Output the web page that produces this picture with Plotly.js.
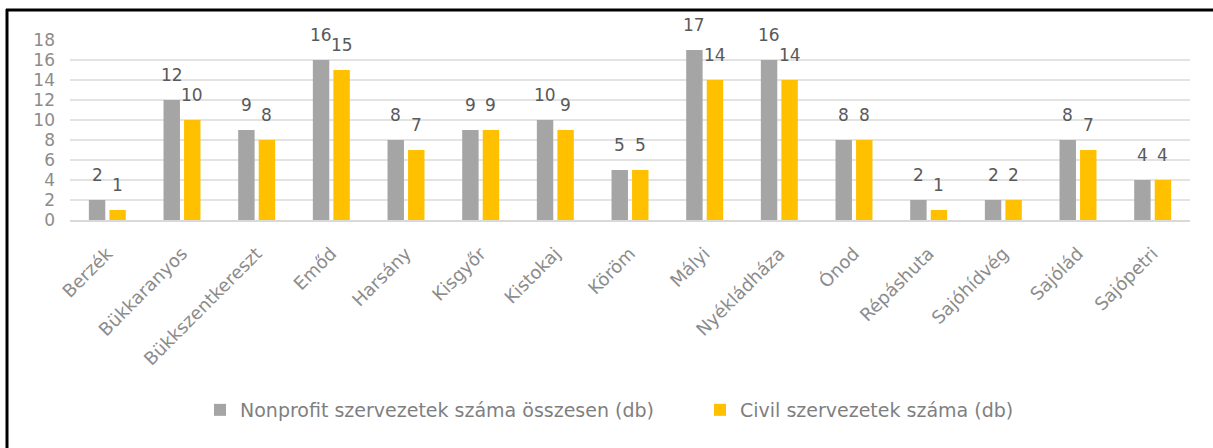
<!DOCTYPE html>
<html>
<head>
<meta charset="utf-8">
<script src="https://cdn.plot.ly/plotly-3.0.1.min.js"></script>
<style>
html,body{margin:0;padding:0;background:#fff;}
#chart{width:1213px;height:448px;}
</style>
</head>
<body>
<div id="chart"></div>
<script>
const categories = ["Berzék","Bükkaranyos","Bükkszentkereszt","Emőd","Harsány","Kisgyőr","Kistokaj","Köröm","Mályi","Nyékládháza","Ónod","Répáshuta","Sajóhídvég","Sajólád","Sajópetri"];
const nonprofitTotal = [2,12,9,16,8,9,10,5,17,16,8,2,2,8,4];
const civil = [1,10,8,15,7,9,9,5,14,14,8,1,2,7,4];
const seriesNames = ["Nonprofit szervezetek száma összesen (db)","Civil szervezetek száma (db)"];
const yTicks = [0,2,4,6,8,10,12,14,16,18];

const W = 1213, H = 448, L = 70, R = 23, T = 40, B = 228;
const plotW = W - L - R, plotH = H - T - B;
const px = x => (x - L) / plotW;
const py = y => (H - B - y) / plotH;

const FONT = 'DejaVu Sans, Verdana, sans-serif';
const BARGAP = 0.45, GROUPGAP = 0.2;
const slot = (1 - BARGAP) / 2;

const common = {type: 'bar', x: categories, hoverinfo: 'none', cliponaxis: false};
const data = [
  Object.assign({}, common, {name: seriesNames[0], y: nonprofitTotal, marker: {color: '#A5A5A5'}, legend: 'legend'}),
  Object.assign({}, common, {name: seriesNames[1], y: civil, marker: {color: '#FFC000'}, legend: 'legend2'})
];

const annotations = [];
[nonprofitTotal, civil].forEach((vals, s) => {
  const off = (s === 0 ? -1 : 1) * slot / 2;
  vals.forEach((v, i) => {
    annotations.push({
      x: i + off, y: v, xref: 'x', yref: 'y', text: String(v), showarrow: false,
      yanchor: 'bottom', xanchor: 'center', yshift: 13,
      font: {family: FONT, size: 17, color: '#595959'}
    });
  });
});

const legendBase = {
  orientation: 'h', xanchor: 'left', y: py(410), yanchor: 'middle',
  font: {family: FONT, size: 19, color: '#7f7f7f'}, bgcolor: 'rgba(0,0,0,0)'
};

const layout = {
  width: W, height: H,
  margin: {l: L, r: R, t: T, b: B},
  paper_bgcolor: '#fff', plot_bgcolor: '#fff',
  barmode: 'group', bargap: BARGAP, bargroupgap: GROUPGAP,
  font: {family: FONT, color: '#7f7f7f'},
  xaxis: {
    type: 'category', tickangle: -45, showgrid: false, zeroline: false,
    showline: true, linecolor: '#d9d9d9', linewidth: 2, ticks: '',
    tickfont: {family: FONT, size: 18, color: '#8c8c8c'}, automargin: false,
    ticklabelstandoff: 14
  },
  yaxis: {
    range: [0, 18], tickvals: yTicks, ticktext: yTicks.map(String),
    showgrid: true, gridcolor: '#e3e3e3', gridwidth: 2, zeroline: false,
    showline: false, ticks: '', tickfont: {family: FONT, size: 17, color: '#8c8c8c'}, automargin: false,
    ticklabelstandoff: 14
  },
  showlegend: true,
  legend: Object.assign({}, legendBase, {x: px(200)}),
  legend2: Object.assign({}, legendBase, {x: px(700)}),
  annotations: annotations,
  shapes: [
    {type: 'line', xref: 'paper', yref: 'paper', x0: px(6), x1: px(1213), y0: py(10), y1: py(10), line: {color: '#000', width: 3}},
    {type: 'line', xref: 'paper', yref: 'paper', x0: px(7), x1: px(7), y0: py(9), y1: py(448), line: {color: '#000', width: 3}}
  ]
};

Plotly.newPlot('chart', data, layout, {displayModeBar: false, staticPlot: true});
</script>
</body>
</html>
